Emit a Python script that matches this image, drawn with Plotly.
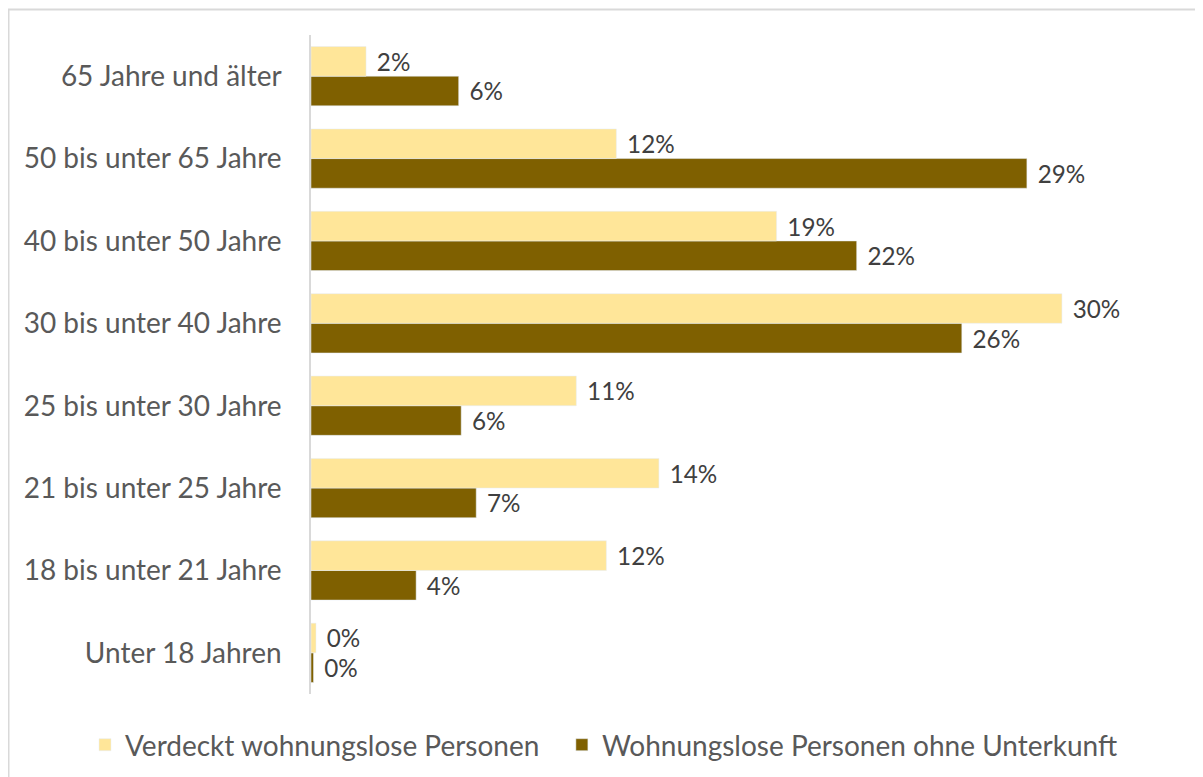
import plotly.graph_objects as go

categories = ["Unter 18 Jahren", "18 bis unter 21 Jahre", "21 bis unter 25 Jahre",
              "25 bis unter 30 Jahre", "30 bis unter 40 Jahre", "40 bis unter 50 Jahre",
              "50 bis unter 65 Jahre", "65 Jahre und älter"]
verdeckt = [0.2, 11.8, 13.9, 10.6, 30.0, 18.6, 12.2, 2.2]
ohne_unterkunft = [0.1, 4.2, 6.6, 6.0, 26.0, 21.8, 28.6, 5.9]
name_verdeckt = "Verdeckt wohnungslose Personen"
name_ohne = "Wohnungslose Personen ohne Unterkunft"

FONT = "Lato"
TICK_SIZE = 28
LABEL_SIZE = 27


def labels(vals):
    return [f" \u200a{round(v)}%" for v in vals]


fig = go.Figure()
fig.add_trace(go.Bar(
    y=categories, x=ohne_unterkunft, orientation="h", name=name_ohne,
    marker_color="#7F6000", legendrank=2,
    text=labels(ohne_unterkunft), textposition="outside",
    textfont=dict(size=LABEL_SIZE, color="#404040", family=FONT), cliponaxis=False,
))
fig.add_trace(go.Bar(
    y=categories, x=verdeckt, orientation="h", name=name_verdeckt + "\u2002\u2009",
    marker_color="#FFE699", legendrank=1,
    text=labels(verdeckt), textposition="outside",
    textfont=dict(size=LABEL_SIZE, color="#404040", family=FONT), cliponaxis=False,
))

# page body has an 8px margin, so the figure starts at (8, 8) of the screenshot
OFF = 8
W, H = 1203 - OFF, 777 - OFF
l, r, t, b = 311 - OFF, 1203 - 1112, 35 - OFF, 777 - 694
pw, ph = W - l - r, H - t - b


def px(x):
    return (x - OFF - l) / pw


def py(y):
    return (H - b - (y - OFF)) / ph


fig.update_layout(
    width=W, height=H,
    margin=dict(l=l, r=r, t=t, b=b, autoexpand=False),
    paper_bgcolor="white", plot_bgcolor="white",
    barmode="group", bargap=0.28, bargroupgap=0,
    font=dict(family=FONT, size=TICK_SIZE, color="#595959"),
    xaxis=dict(range=[0, 32], visible=False, fixedrange=True),
    yaxis=dict(showline=True, linecolor="#D9D9D9", linewidth=1.5, ticks="",
               showgrid=False, tickfont=dict(size=TICK_SIZE, color="#595959"),
               ticklabelstandoff=22, fixedrange=True, automargin=False),
    showlegend=True,
    legend=dict(orientation="h", x=px(85), xanchor="left", y=py(745), yanchor="middle",
                font=dict(size=TICK_SIZE, color="#595959"), itemwidth=30,
                traceorder="normal"),
    shapes=[dict(type="rect", xref="paper", yref="paper",
                 x0=px(8.5), x1=px(1220), y0=py(800), y1=py(9.5),
                 line=dict(color="#D9D9D9", width=2), fillcolor="rgba(0,0,0,0)", layer="below")],
)

fig.write_html("out.html")
